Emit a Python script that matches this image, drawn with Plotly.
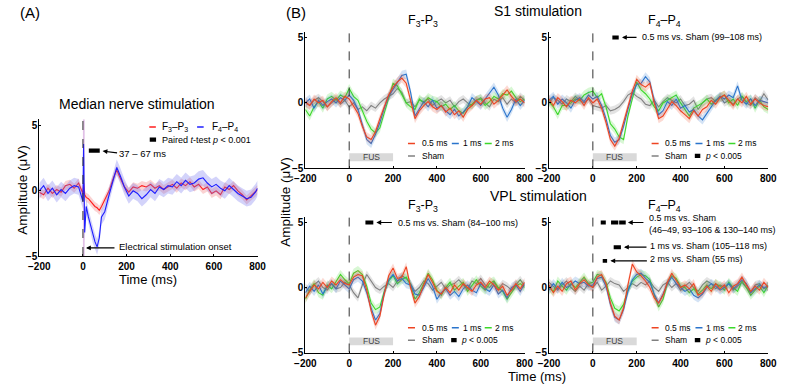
import plotly.graph_objects as go

# ---------------- DATA ----------------
t = list(range(-200, 801, 20))
series_names = ["0.5 ms", "1 ms", "2 ms", "Sham"]

# Panel A (median nerve stimulation)
tA = [-200, -180, -160, -140, -120, -100, -80, -60, -40, -20,
      0, 3, 8, 15, 25, 35, 45, 55, 65, 75, 85, 100,
      120, 140, 155, 170,
      190, 210, 230, 250, 270, 290, 310, 330, 350, 370, 390, 410, 430, 450, 470,
      490, 510, 530, 550, 570, 590, 610, 630, 650, 670, 690, 710, 730, 750, 770, 790,
      800]
A_f3p3 = [-0.1, -0.3, 0.2, -0.2, 0.1, -0.1, 0.4, 0.5, 0.2, 0.6,
          -0.2, 0.6, -0.3, -0.5, -0.6, -0.8, -1.0, -1.2, -1.3, -1.5, -1.2, -0.7,
          0.0, 1.0, 1.6, 1.0,
          0.3, -0.1, 0.3, 0.2, 0.4, 0.3, 0.5, 0.2, 0.4, 0.1, 0.3, 0.5, 0.2, 0.6, 0.4,
          0.7, 0.3, 0.5, 0.1, 0.3, -0.2, 0.0, -0.3, 0.3, 0.1, 0.4, 0.0, -0.3, -0.7, -0.4, -0.1,
          0.1]
A_f4p4 = [0.0, 0.4, -0.2, 0.2, -0.3, 0.1, -0.2, 0.2, 0.4, 0.3,
          -0.8, 3.6, -3.2, -1.2, -2.0, -2.6, -3.4, -3.9, -4.3, -3.6, -2.0, -1.6,
          -0.3, 1.0, 1.8, 1.2,
          0.3, -0.4, 0.0, -0.2, -0.6, -0.3, 0.1, -0.2, 0.3, 0.1, 0.4, 0.3, 0.7, 0.4, 0.8,
          0.5, 0.6, 0.9, 1.0, 0.6, 0.3, 0.5, 0.2, 0.0, 0.4, 0.1, -0.2, -0.4, -0.6, -0.5, -0.1,
          0.2]
A_sem = [0.35, 0.6]
A_sig = [(37, 67)]

# Panel B: S1 stimulation, F3-P3
s1_f3_05 = [0.1, -0.2, 0.3, 0.0, 0.2, -0.3, 0.1, 0.4, 0.0, 0.5,
            0.3, -0.2, -0.8, -1.8, -2.6, -2.8, -2.2, -1.2, -0.3, 0.6,
            1.2, 1.6, 1.9, 1.5, 0.2, -1.2, -0.6, -0.2, 0.1, -0.3,
            -0.5, -0.2, -0.7, -0.4, -0.9, -0.6, -1.1, -0.5, -0.2, 0.2,
            -0.1, 0.3, 0.4, -0.1, 0.2, 0.6, 1.0, 0.5, 0.1, 0.3,
            0.0]
s1_f3_1 = [0.0, 0.3, -0.4, 0.2, -0.2, 0.1, 0.3, 0.0, 0.4, 0.2,
           0.6, 0.2, -0.5, -1.6, -2.8, -3.1, -2.4, -1.5, -0.4, 0.5,
           1.0, 1.5, 2.1, 2.2, 0.8, -1.0, -0.5, 0.1, -0.3, 0.2,
           -0.4, -0.2, -0.6, -0.9, -0.5, -1.0, -0.7, -0.3, 0.4, 0.1,
           -0.2, 0.3, 0.8, 1.2, 0.6, -0.4, -1.1, -0.5, 0.3, -0.2,
           0.2]
s1_f3_2 = [-0.5, -1.0, -0.3, 0.1, -0.4, 0.3, 0.5, 0.2, 0.6, 0.4,
           1.1, 0.5, 0.2, -0.6, -1.4, -2.0, -2.3, -1.9, -0.8, 0.4,
           1.5, 1.3, 0.6, 0.0, -0.3, -0.5, 0.3, 0.0, 0.4, 0.2,
           0.1, -0.3, -0.1, -0.5, -0.2, -0.6, -0.8, -0.3, -0.1, 0.2,
           0.3, -0.2, 0.1, 0.5, 0.3, 0.7, 0.6, 0.9, 0.4, 0.1,
           0.3]
s1_f3_sham = [0.0, -0.2, 0.2, 0.4, 0.1, -0.3, 0.0, 0.3, -0.1, 0.2,
              -0.3, 0.0, -0.5, -0.3, -0.6, -0.2, -0.4, 0.0, 0.3, 0.5,
              0.7, 1.1, 0.8, 0.0, 0.1, -0.3, 0.2, 0.1, 0.3, -0.2,
              0.1, 0.3, 0.0, 0.2, -0.3, 0.1, 0.3, 0.0, -0.2, 0.2,
              0.4, 0.0, -0.3, 0.3, 0.1, 0.4, -0.1, 0.3, 0.0, 0.5,
              0.2]

# Panel B: S1 stimulation, F4-P4
s1_f4_05 = [0.3, -0.2, 0.4, 0.1, -0.3, 0.2, 0.0, 0.3, -0.2, 0.4,
            0.0, 0.3, -0.4, -1.5, -2.8, -3.3, -2.7, -1.5, -0.2, 0.9,
            1.8, 1.4, 1.2, 1.5, 0.0, -1.2, -1.0, -0.4, 0.1, -0.2,
            -0.6, -0.9, -1.2, -0.6, -1.0, -0.5, -0.3, 0.2, -0.1, 0.4,
            0.6, 0.2, -0.2, 0.3, 0.0, 0.5, -0.1, 0.3, 0.0, -0.2,
            -0.3]
s1_f4_1 = [0.2, 0.5, -0.1, 0.3, 0.0, -0.4, 0.2, 0.4, 0.1, 0.6,
           0.3, 0.5, -0.2, -1.2, -2.5, -3.0, -2.8, -1.8, -0.5, 0.7,
           1.4, 1.5, 2.0, 1.6, 0.2, -0.9, -0.6, 0.1, -0.2, 0.3,
           -0.4, -0.2, -0.7, -0.5, -1.0, -1.3, -0.8, -0.3, 0.2, 0.5,
           0.3, 0.6, 0.4, 1.3, 0.2, -0.1, 0.3, -0.2, 0.2, 0.1,
           0.0]
s1_f4_2 = [0.1, -0.3, -0.9, -0.2, -0.2, 0.0, 0.3, 0.2, 0.6, 0.8,
           0.9, 0.4, 0.7, -0.3, -1.6, -2.0, -2.6, -2.8, -1.0, 0.4,
           1.6, 1.0, 0.7, 0.3, -0.3, -0.6, 0.0, 0.2, 0.4, 0.6,
           0.0, -0.5, -1.0, -0.4, -0.2, 0.0, 0.3, -0.1, 0.2, 0.4,
           0.6, 0.0, 0.3, -0.2, 0.5, 0.1, 0.3, -0.4, 0.2, -0.3,
           -0.5]
s1_f4_sham = [0.0, 0.4, 0.2, -0.1, 0.3, 0.1, 0.5, 0.2, 0.0, 0.3,
              -0.2, -0.3, -0.4, -0.2, -0.6, -0.5, -0.3, 0.1, 0.6, 0.8,
              0.5, 0.3, -0.1, -0.2, 0.2, -0.3, 0.1, 0.4, 0.2, 0.0,
              0.3, -0.2, -0.1, 0.2, -0.5, 0.0, 0.3, 0.4, 0.1, 0.5,
              0.0, 0.2, -0.1, 0.3, 0.5, 0.0, -0.2, 0.4, 0.1, 0.7,
              0.2]

# Panel B: VPL stimulation, F3-P3
vpl_f3_05 = [-0.8, -0.3, 0.2, -0.1, 0.4, 0.0, 0.5, 0.2, 0.6, 0.3,
             0.2, 0.8, 1.0, 0.9, -0.2, -1.8, -2.9, -2.2, -0.5, 0.9,
             1.5, 0.7, 0.8, 1.6, 0.0, -1.2, -0.7, 0.2, 1.0, 0.4,
             -0.3, -0.5, 0.0, -0.4, 0.2, -0.2, 0.3, 0.0, -0.3, 0.2,
             0.4, 0.0, 0.5, 0.2, -0.2, 0.1, -0.6, -0.2, 0.3, -0.1,
             0.4]
vpl_f3_1 = [-0.4, 0.1, -0.3, 0.2, -0.5, 0.1, 0.3, -0.1, 0.5, 0.2,
            -0.1, 0.6, 0.8, 0.5, -0.4, -1.6, -2.5, -2.0, -0.4, 0.6,
            1.0, 0.5, 0.7, 0.3, 0.2, -0.5, -0.6, 0.0, 0.7, 0.1,
            -0.9, -0.4, -0.1, -0.6, -0.3, -0.7, -0.1, 0.2, -0.2, -0.4,
            0.3, -0.1, -0.3, 0.2, -0.5, -0.2, -0.8, 0.0, 0.2, -0.3,
            0.3]
vpl_f3_2 = [-0.9, -0.2, 0.3, -0.4, -0.6, 0.2, -0.1, 0.4, 1.0, 0.6,
            0.3, 1.1, 1.3, 1.0, 0.1, -1.2, -1.7, -1.5, -0.3, 0.5,
            0.9, 0.3, 0.6, 0.8, 0.2, -0.9, -0.4, 0.3, 1.1, 0.6,
            -0.2, -0.6, 0.0, 0.4, -0.2, 0.1, 0.4, -0.3, 0.2, 0.6,
            0.1, -0.2, 0.3, 0.5, 0.0, -0.3, -0.9, -0.4, 0.1, 0.3,
            0.0]
vpl_f3_sham = [0.0, -0.3, 0.2, 0.5, 0.0, -0.2, 0.3, -0.1, 0.0, 0.4,
               0.2, -0.4, -0.8, 0.2, 1.0, 0.5, 0.0, -0.2, 0.1, 0.3,
               0.0, 0.5, 0.9, 0.7, 0.3, -0.3, 0.0, 0.5, 0.3, -0.2,
               0.1, 0.4, -0.1, 0.2, 0.3, 0.6, 0.2, -0.1, 0.5, 0.3,
               0.7, 0.2, 0.0, 0.4, -0.1, 0.3, 0.1, -0.2, 0.2, 0.6,
               0.1]

# Panel B: VPL stimulation, F4-P4
vpl_f4_05 = [0.2, -0.4, 0.1, -0.3, 0.3, 0.5, -0.2, 0.3, 0.6, 0.2,
             0.0, 0.8, 1.0, 0.3, -1.2, -2.2, -2.5, -1.6, 0.2, 1.8,
             1.2, 0.9, 0.5, 0.0, -0.8, -1.2, -0.6, 0.4, 1.1, 0.6,
             0.0, 0.2, -0.1, 0.3, -0.6, -0.4, 0.1, -0.3, 0.3, -0.1,
             0.2, -0.4, 0.1, 0.3, 0.8, 0.2, -0.3, 0.1, -0.2, 0.4,
             0.0]
vpl_f4_1 = [-0.2, 0.3, -0.1, 0.4, 0.0, 0.2, 0.5, 0.3, 0.4, 0.1,
            0.2, 0.7, 0.8, 0.1, -1.3, -2.3, -2.5, -1.7, -0.3, 0.6,
            1.0, 1.1, 0.7, 0.4, -0.5, -1.2, -0.5, 0.3, 0.8, 0.3,
            0.0, -0.3, -0.1, -0.6, -0.8, -0.5, 0.0, 0.3, 0.1, -0.2,
            0.0, 0.3, -0.1, 0.2, 0.6, 0.3, -0.4, -0.1, 0.2, 0.0,
            0.1]
vpl_f4_2 = [0.0, -0.3, 0.5, 0.1, -0.2, 0.3, 0.0, 0.4, 0.8, 0.3,
            0.4, 1.0, 0.9, 0.4, -0.8, -1.6, -1.8, -1.3, -0.2, 0.5,
            0.8, 1.0, 0.9, 0.6, -0.6, -1.5, -0.9, 0.3, 0.9, 0.7,
            0.1, 0.0, -0.4, -0.1, -0.5, -0.2, 0.2, -0.1, 0.3, 0.1,
            -0.2, 0.4, 0.0, -0.3, 0.5, 0.0, -0.6, -0.2, 0.1, -0.4,
            0.2]
vpl_f4_sham = [0.4, 0.1, -0.2, 0.2, 0.5, 0.0, -0.3, 0.1, -0.2, 0.3,
               0.0, 0.4, -0.2, 0.1, 0.5, 0.3, 0.2, -0.3, 0.0, 0.3,
               0.1, 0.4, 0.2, 0.5, 0.0, -0.3, 0.2, 0.4, 0.0, 0.3,
               -0.2, 0.1, 0.4, 0.0, -0.3, 0.2, 0.5, 0.3, -0.1, 0.2,
               0.0, 0.3, -0.2, 0.1, 0.4, 0.0, -0.4, 0.2, 0.3, -0.1,
               0.1]
B_sem = [0.35, 0.35, 0.35, 0.3]

sig_s1_f4 = [(99, 108)]
sig_vpl_f3 = [(84, 100)]
sig_vpl_f4_05 = [(46, 49), (93, 106), (130, 140)]
sig_vpl_f4_1 = [(105, 118)]
sig_vpl_f4_2 = [(55, 55)]

# ---------------- STYLE ----------------
FONT = "Liberation Sans, Arial, sans-serif"
B_colors = ["#EE4422", "#2A74CC", "#3CD82A", "#808080"]
B_bands = ["rgba(238,68,34,0.20)", "rgba(42,116,204,0.20)",
           "rgba(60,216,42,0.20)", "rgba(128,128,128,0.22)"]
A_colors = ["#FF1E1E", "#1E1EFF"]
A_bands = ["rgba(240,110,110,0.30)", "rgba(110,110,240,0.30)"]

W, H = 788, 391
def px_x(p): return p / W
def px_y(p): return 1 - p / H

fig = go.Figure()

def add_series(xv, yv, sem, color, band, ax):
    up = [v + sem for v in yv]
    lo = [v - sem for v in yv]
    fig.add_trace(go.Scatter(x=list(xv) + list(xv)[::-1], y=up + lo[::-1],
                             fill="toself", fillcolor=band, line=dict(width=0),
                             mode="lines", hoverinfo="skip", showlegend=False,
                             xaxis="x" + ax, yaxis="y" + ax))
    fig.add_trace(go.Scatter(x=xv, y=yv, mode="lines",
                             line=dict(color=color, width=1.1),
                             showlegend=False, xaxis="x" + ax, yaxis="y" + ax))

# Panel A
add_series(tA, A_f3p3, A_sem[0], A_colors[0], A_bands[0], "")
add_series(tA, A_f4p4, A_sem[1], A_colors[1], A_bands[1], "")

panels = [
    ("2", [s1_f3_05, s1_f3_1, s1_f3_2, s1_f3_sham]),
    ("3", [s1_f4_05, s1_f4_1, s1_f4_2, s1_f4_sham]),
    ("4", [vpl_f3_05, vpl_f3_1, vpl_f3_2, vpl_f3_sham]),
    ("5", [vpl_f4_05, vpl_f4_1, vpl_f4_2, vpl_f4_sham]),
]
for ax, ser in panels:
    for idx in [3, 2, 1, 0]:
        add_series(t, ser[idx], B_sem[idx], B_colors[idx], B_bands[idx], ax)

tickfont = dict(family=FONT, size=10, color="black", weight="bold")
def xax(dom, anchor):
    return dict(domain=dom, anchor=anchor, range=[-200, 800],
                tickvals=[-200, 0, 200, 400, 600, 800], showline=True,
                linecolor="black", linewidth=1, ticks="inside", ticklen=2,
                tickcolor="black", ticklabelstandoff=1,
                tickfont=tickfont, showgrid=False,
                zeroline=False, fixedrange=True)
def yax(dom, anchor, top):
    return dict(domain=dom, anchor=anchor, range=[-5, top],
                tickvals=[-5, 0, 5], showline=True, linecolor="black",
                linewidth=1, ticks="inside", ticklen=2, tickcolor="black",
                ticklabelstandoff=-1,
                tickfont=tickfont, showgrid=False, zeroline=False,
                fixedrange=True)

domA_x = [px_x(29), px_x(253)]
domA_y = [px_y(260), px_y(121)]
domL_x = [px_x(302), px_x(527)]
domR_x = [px_x(552), px_x(777)]
domT_y = [px_y(171), px_y(32.7)]
domB_y = [px_y(358), px_y(220.7)]

fig.update_layout(
    width=W, height=H, margin=dict(l=0, r=0, t=0, b=0),
    plot_bgcolor="white", paper_bgcolor="white",
    font=dict(family=FONT, color="black"),
    xaxis=xax(domA_x, "y"), yaxis=yax(domA_y, "x", 5.5),
    xaxis2=xax(domL_x, "y2"), yaxis2=yax(domT_y, "x2", 5.4),
    xaxis3=xax(domR_x, "y3"), yaxis3=yax(domT_y, "x3", 5.4),
    xaxis4=xax(domL_x, "y4"), yaxis4=yax(domB_y, "x4", 5.4),
    xaxis5=xax(domR_x, "y5"), yaxis5=yax(domB_y, "x5", 5.4),
)

shapes = []
ann = []

def key_line(ax, x0, x1, y, color):
    shapes.append(dict(type="line", xref="x" + ax, yref="y" + ax, x0=x0, x1=x1,
                       y0=y, y1=y, line=dict(color=color, width=1.5)))

def key_box(ax, x0, x1, y, h):
    shapes.append(dict(type="rect", xref="x" + ax, yref="y" + ax, x0=x0, x1=x1,
                       y0=y - h, y1=y + h, fillcolor="black", line=dict(width=0)))

def label(ax, x, y, text, size):
    ann.append(dict(xref="x" + ax, yref="y" + ax, x=x, y=y, text=text, showarrow=False,
                    xanchor="left", yanchor="middle", align="left",
                    font=dict(size=size)))

def arrow(ax, xh, yh, dx, dy=0):
    ann.append(dict(xref="x" + ax, yref="y" + ax, x=xh, y=yh, ax=dx, ay=dy, text="",
                    showarrow=True, arrowhead=2, arrowsize=0.8, arrowwidth=1.2,
                    arrowcolor="black"))

def sig_bars(ranges, level, ax, h=0.15):
    for s, e in ranges:
        shapes.append(dict(type="rect", xref="x" + ax, yref="y" + ax, x0=s - 10, x1=e + 10,
                           y0=level - h, y1=level + h, fillcolor="black",
                           line=dict(width=0)))

# Panel A decorations
shapes.append(dict(type="rect", xref="x", yref="y", x0=0, x1=8, y0=-5, y1=5.5,
                   fillcolor="rgba(200,140,210,0.55)", line=dict(width=0), layer="below"))
shapes.append(dict(type="line", xref="x", yref="y", x0=0, x1=0, y0=-5, y1=5.5,
                   line=dict(color="#333", width=1, dash="dash")))
sig_bars(A_sig, 3.08, "", 0.16)
arrow("", 90, 3.05, 16, 2)
label("", 158, 2.85, "37 – 67 ms", 9.5)
arrow("", 14, -4.38, 30)
label("", 158, -4.3, "Electrical stimulation onset", 9.5)
key_line("", 304, 334, 4.9, A_colors[0])
label("", 352, 4.9, "F<sub>3</sub>–P<sub>3</sub>", 10)
key_line("", 523, 553, 4.9, A_colors[1])
label("", 580, 4.9, "F<sub>4</sub>–P<sub>4</sub>", 10)
key_box("", 306, 335, 3.93, 0.16)
label("", 352, 3.93, "Paired <i>t</i>-test <i>p</i> < 0.001", 9)

# Panel B decorations
for ax in ["2", "3", "4", "5"]:
    xr, yr = "x" + ax, "y" + ax
    shapes.append(dict(type="line", xref=xr, yref=yr, x0=0, x1=0, y0=-5, y1=5.4,
                       line=dict(color="#333", width=1, dash="dash")))
    shapes.append(dict(type="rect", xref=xr, yref=yr, x0=0, x1=200, y0=-4.45, y1=-3.85,
                       fillcolor="#D9D9D9", line=dict(width=0), layer="below"))
    ann.append(dict(xref=xr, yref=yr, x=100, y=-4.15, text="FUS", showarrow=False,
                    font=dict(size=8.5, color="#444")))
    r1, r2 = -3.1, -4.05
    key_line(ax, 268, 300, r1, B_colors[0]); label(ax, 322, r1, series_names[0], 8.5)
    key_line(ax, 468, 500, r1, B_colors[1]); label(ax, 508, r1, series_names[1], 8.5)
    key_line(ax, 618, 650, r1, B_colors[2]); label(ax, 655, r1, series_names[2], 8.5)
    key_line(ax, 268, 300, r2, B_colors[3]); label(ax, 322, r2, series_names[3], 8.5)
    if ax != "2":
        key_box(ax, 465, 490, r2, 0.16)
        label(ax, 502, r2, "<i>p</i> < 0.005", 8.5)

sig_bars(sig_s1_f4, 5, "3")
arrow("3", 133, 5, 16)
label("3", 214, 5, "0.5 ms vs. Sham (99–108 ms)", 9)

sig_bars(sig_vpl_f3, 5, "4")
arrow("4", 124, 5, 17)
label("4", 214, 5, "0.5 ms vs. Sham (84–100 ms)", 9)

sig_bars(sig_vpl_f4_05, 5, "5")
sig_bars(sig_vpl_f4_1, 3.1, "5")
sig_bars(sig_vpl_f4_2, 2.05, "5")
arrow("5", 160, 5, 17)
arrow("5", 142, 3.1, 24)
arrow("5", 80, 2.05, 38)
label("5", 249, 4.9, "0.5 ms vs. Sham<br>(46–49, 93–106 & 130–140 ms)", 9)
label("5", 251, 3.2, "1 ms vs. Sham (105–118 ms)", 9)
label("5", 251, 2.2, "2 ms vs. Sham (55 ms)", 9)

# Titles and labels
def ptext(x, y, text, size, angle=0):
    ann.append(dict(xref="paper", yref="paper", x=px_x(x), y=px_y(y), text=text,
                    showarrow=False, xanchor="center", yanchor="middle",
                    textangle=angle, font=dict(size=size)))

ptext(20, 13, "(A)", 15)
ptext(292, 13, "(B)", 15)
ptext(129, 106, "Median nerve stimulation", 14)
ptext(541, 11, "S1 stimulation", 14)
ptext(541, 199, "VPL stimulation", 14)
ptext(423, 21, "F<sub>3</sub>-P<sub>3</sub>", 12.5)
ptext(671, 21, "F<sub>4</sub>–P<sub>4</sub>", 12.5)
ptext(423, 209, "F<sub>3</sub>-P<sub>3</sub>", 12.5)
ptext(671, 209, "F<sub>4</sub>–P<sub>4</sub>", 12.5)
ptext(141, 284, "Time (ms)", 13)
ptext(540, 382, "Time (ms)", 13)
ptext(11, 193, "Amplitude (μV)", 13.5, -90)
ptext(282, 205, "Amplitude (μV)", 13.5, -90)

fig.update_layout(shapes=shapes, annotations=ann)
fig.write_html("out.html", config={"displayModeBar": False},
               post_script="document.body.style.margin='0';")
